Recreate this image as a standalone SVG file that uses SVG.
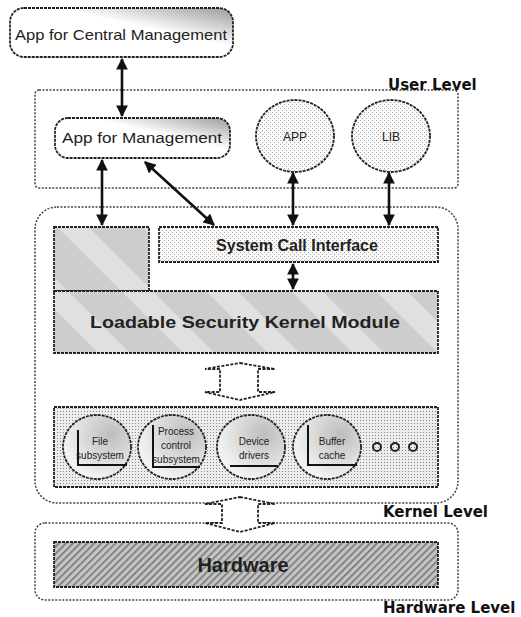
<svg xmlns="http://www.w3.org/2000/svg" width="521" height="617" viewBox="0 0 521 617">
<style>
.lbl{font-family:"DejaVu Sans","Liberation Sans",sans-serif;font-weight:bold;font-size:15px;fill:#111}
.t{font-family:"Liberation Sans","DejaVu Sans",sans-serif;fill:#222;text-anchor:middle}
.dot{fill:none;stroke:#444;stroke-width:1.5;stroke-dasharray:2 1.5}
.node{stroke:#222;stroke-width:1.8;stroke-dasharray:3 1}
.conn{stroke:#111;stroke-width:2.6;fill:none}
.blk{fill:#fff;stroke:#222;stroke-width:1.8;stroke-dasharray:3 1.5}
</style>
<defs>
<marker id="ah" viewBox="0 0 10 10" refX="9" refY="5" markerWidth="4.5" markerHeight="4.5" orient="auto-start-reverse">
<path d="M0,0 L10,5 L0,10 z" fill="#111"/>
</marker>
<pattern id="stip" width="4" height="4" patternUnits="userSpaceOnUse">
<rect width="4" height="4" fill="#fafafa"/>
<rect x="0" y="0" width="1" height="1" fill="#aaa"/>
<rect x="2" y="2" width="1" height="1" fill="#aaa"/>
</pattern>
<pattern id="stip2" width="3" height="3" patternUnits="userSpaceOnUse">
<rect width="3" height="3" fill="#ececec"/>
<rect x="0" y="0" width="1" height="1" fill="#888"/>
</pattern>
<pattern id="lsk" width="60" height="60" patternUnits="userSpaceOnUse" patternTransform="rotate(-45)">
<rect width="60" height="60" fill="#cdcdcd"/>
<rect x="0" y="0" width="22" height="60" fill="#e0e0e0"/>
</pattern>
<pattern id="hw" width="5" height="5" patternUnits="userSpaceOnUse" patternTransform="rotate(45)">
<rect width="5" height="5" fill="#c4c4c4"/>
<rect x="0" y="0" width="1.6" height="5" fill="#777"/>
</pattern>
<linearGradient id="sh" x1="0" y1="1" x2="1" y2="0">
<stop offset="0.6" stop-color="#fff"/>
<stop offset="1" stop-color="#9a9a9a"/>
</linearGradient>
<radialGradient id="cg" cx="0.7" cy="0.3" r="0.7">
<stop offset="0" stop-color="#bdbdbd"/>
<stop offset="1" stop-color="#f2f2f2"/>
</radialGradient>
</defs>

<!-- Level frames -->
<g id="user-level">
<rect class="dot" x="35" y="90" width="423" height="98" rx="4"/>
<text class="lbl" x="388" y="90">User Level</text>
</g>
<g id="kernel-level">
<rect class="dot" x="35" y="207" width="423" height="296" rx="22"/>
<text class="lbl" x="383" y="517">Kernel Level</text>
</g>
<g id="hardware-level">
<rect class="dot" x="35" y="523" width="423" height="77" rx="10"/>
<text class="lbl" x="383" y="613">Hardware Level</text>
</g>

<!-- Nodes -->
<g id="central-mgmt">
<rect class="node" x="10" y="8" width="223" height="49" rx="14" fill="url(#sh)"/>
<text class="t" x="121" y="40" font-size="15" textLength="212" lengthAdjust="spacingAndGlyphs">App for Central Management</text>
</g>
<g id="mgmt">
<rect class="node" x="55" y="118" width="175" height="40" rx="13" fill="url(#sh)"/>
<text class="t" x="142" y="143" font-size="14" textLength="160" lengthAdjust="spacingAndGlyphs">App for Management</text>
</g>
<g id="app">
<ellipse class="node" cx="295" cy="136" rx="39" ry="36" fill="url(#stip)"/>
<text class="t" x="295" y="141" font-size="12">APP</text>
</g>
<g id="lib">
<ellipse class="node" cx="391" cy="136" rx="39" ry="36" fill="url(#stip)"/>
<text class="t" x="391" y="141" font-size="12">LIB</text>
</g>
<g id="left-block">
<rect class="node" x="54" y="227" width="95" height="64" fill="url(#lsk)"/>
</g>
<g id="sci">
<rect class="node" x="159" y="227" width="279" height="35" fill="url(#stip)"/>
<text class="t" x="297" y="251" font-size="16" font-weight="bold">System Call Interface</text>
</g>
<g id="lskm">
<rect class="node" x="54" y="291" width="384" height="62" fill="url(#lsk)"/>
<text class="t" x="245" y="328" font-size="17" font-weight="bold" fill="#111" textLength="310" lengthAdjust="spacingAndGlyphs">Loadable Security Kernel Module</text>
</g>
<g id="modules">
<rect class="node" x="54" y="407" width="384" height="80" fill="url(#stip2)"/>
<g id="file-subsystem">
<ellipse cx="97" cy="447" rx="34" ry="32" fill="url(#cg)" class="node"/>
<polyline points="78,430 78,465 127,465" fill="none" stroke="#111" stroke-width="2"/>
<text class="t" x="100" y="445" font-size="10">File</text>
<text class="t" x="100" y="459" font-size="10">subsystem</text>
</g>
<g id="process-control">
<ellipse cx="172" cy="447" rx="34" ry="32" fill="url(#cg)" class="node"/>
<polyline points="153,425 153,467 200,467" fill="none" stroke="#111" stroke-width="2"/>
<text class="t" x="176" y="435" font-size="10">Process</text>
<text class="t" x="176" y="449" font-size="10">control</text>
<text class="t" x="176" y="463" font-size="10">subsystem</text>
</g>
<g id="device-drivers">
<ellipse cx="251" cy="447" rx="34" ry="32" fill="url(#cg)" class="node"/>
<line x1="230" y1="466" x2="278" y2="466" stroke="#111" stroke-width="2"/>
<text class="t" x="254" y="445" font-size="10">Device</text>
<text class="t" x="254" y="459" font-size="10">drivers</text>
</g>
<g id="buffer-cache">
<ellipse cx="327" cy="447" rx="34" ry="32" fill="url(#cg)" class="node"/>
<polyline points="308,425 308,465 357,465" fill="none" stroke="#111" stroke-width="2"/>
<text class="t" x="332" y="445" font-size="10">Buffer</text>
<text class="t" x="332" y="459" font-size="10">cache</text>
</g>
<circle cx="377" cy="447" r="4" fill="none" stroke="#222" stroke-width="2"/>
<circle cx="395" cy="447" r="4" fill="none" stroke="#222" stroke-width="2"/>
<circle cx="413" cy="447" r="4" fill="none" stroke="#222" stroke-width="2"/>
</g>
<g id="hardware">
<rect class="node" x="54" y="542" width="384" height="45" fill="url(#hw)"/>
<text class="t" x="243" y="572" font-size="20" fill="#111" font-weight="bold">Hardware</text>
</g>

<!-- Connectors -->
<g id="connectors">
<line class="conn" x1="122" y1="59" x2="122" y2="116" marker-start="url(#ah)" marker-end="url(#ah)"/>
<line class="conn" x1="102" y1="160" x2="102" y2="225" marker-start="url(#ah)" marker-end="url(#ah)"/>
<line class="conn" x1="145" y1="162" x2="214" y2="225" marker-start="url(#ah)" marker-end="url(#ah)"/>
<line class="conn" x1="293" y1="173" x2="293" y2="225" marker-start="url(#ah)" marker-end="url(#ah)"/>
<line class="conn" x1="389" y1="173" x2="389" y2="225" marker-start="url(#ah)" marker-end="url(#ah)"/>
<line class="conn" x1="293" y1="264" x2="293" y2="289" marker-start="url(#ah)" marker-end="url(#ah)"/>
<path class="blk" d="M240,363 L275,369 L258,369 L258,392 L275,392 L240,400 L205,392 L220,392 L220,369 L205,369 Z"/>
<path class="blk" d="M240,497 L275,504 L258,504 L258,523 L275,523 L240,532 L205,523 L222,523 L222,504 L205,504 Z"/>
</g>
</svg>
